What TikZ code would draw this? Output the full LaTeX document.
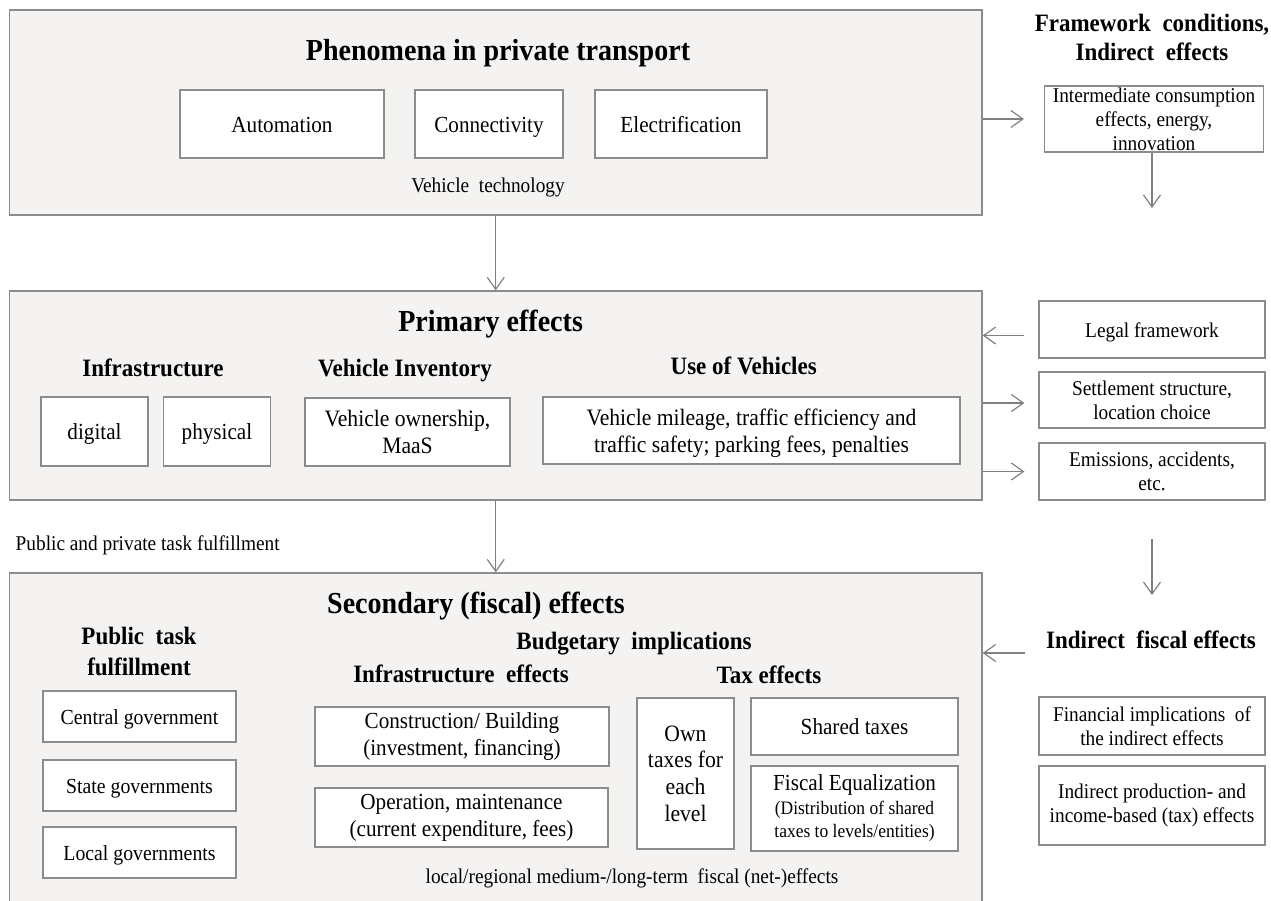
\documentclass[tikz,border=0pt]{standalone}
\usepackage{fontspec}
\setmainfont{Liberation Serif}[FakeStretch=0.92]
\usetikzlibrary{arrows.meta,calc}
\definecolor{bxfill}{HTML}{F4F3F2}
\definecolor{bxline}{HTML}{8C8C8C}
\definecolor{arcol}{HTML}{808080}
\newcommand\myfs[2]{\fontsize{#1}{#2}\selectfont}
\begin{document}
\begin{tikzpicture}[x=1pt,y=-1pt,
  bigbox/.style={draw=bxline, fill=bxfill, line width=1.3pt, inner sep=0pt},
  inbox/.style={draw=bxline, fill=white, line width=1.2pt, inner sep=0pt, align=center},
  oneline/.style={text height=17pt, text depth=1pt},
  txt/.style={inner sep=0pt, align=center},
  hdr/.style={txt, anchor=base, font=\bfseries\myfs{25}{29}},
  ttl/.style={txt, anchor=base, font=\bfseries\myfs{30.5}{34}},
  arr/.style={draw=arcol, line width=1.2pt, -{Straight Barb[length=12pt,width=17pt,line width=1.2pt]}},
]
\useasboundingbox (0,0) rectangle (1271,900);
\clip (0,0) rectangle (1271,900);

% ---------- Box 1 ----------
\node[bigbox, minimum width=972.5pt, minimum height=205pt] (box1) at (495.75,112.5) {};
\node[ttl] (t1) at (498,60) {Phenomena in private transport};
\node[inbox, oneline, minimum width=204pt, minimum height=68pt, font=\myfs{23}{27}] (auto) at (282,124) {Automation};
\node[inbox, oneline, minimum width=148pt, minimum height=68pt, font=\myfs{23}{27}] (conn) at (489,124) {Connectivity};
\node[inbox, oneline, minimum width=172pt, minimum height=68pt, font=\myfs{23}{27}] (elec) at (681,124) {Electrification};
\node[txt, anchor=base, font=\myfs{21}{24}] (vtech) at (488,192.7) {Vehicle\ \ technology};

% ---------- Right top ----------
\node[txt, font=\bfseries\myfs{25}{29}] (fwhead) at (1152,37.5) {Framework\ \ conditions,\\Indirect\ \ effects};
\node[inbox, minimum width=219pt, minimum height=66pt, font=\myfs{21}{24}] (interm) at (1154,119) {Intermediate consumption\\effects, energy,\\innovation};

% ---------- Box 2 ----------
\node[bigbox, minimum width=972.5pt, minimum height=209pt] (box2) at (495.75,395.5) {};
\node[ttl] (t2) at (490.6,331.7) {Primary effects};
\node[hdr] (hinfra) at (153,376) {Infrastructure};
\node[hdr] (hvinv) at (405,376) {Vehicle Inventory};
\node[hdr] (huse) at (743.7,374.3) {Use of Vehicles};
\node[inbox, oneline, minimum width=107pt, minimum height=69pt, font=\myfs{23}{27}] (digital) at (94.5,431.5) {digital};
\node[inbox, oneline, minimum width=107pt, minimum height=69pt, font=\myfs{23}{27}] (physical) at (217,431.5) {physical};
\node[inbox, minimum width=205pt, minimum height=68pt, font=\myfs{23.5}{27}] (vown) at (407.5,432) {Vehicle ownership,\\MaaS};
\node[inbox, minimum width=417pt, minimum height=67pt, font=\myfs{23.5}{27}] (usebox) at (751.5,430.5) {\rule{0pt}{22pt}Vehicle mileage, traffic efficiency and\\traffic safety; parking fees, penalties};

% ---------- Right middle ----------
\node[inbox, oneline, minimum width=226pt, minimum height=57pt, font=\myfs{21}{24}] (legal) at (1152,329.5) {Legal framework};
\node[inbox, minimum width=226pt, minimum height=56pt, font=\myfs{21}{24}] (settle) at (1152,400) {Settlement structure,\\location choice};
\node[inbox, minimum width=226pt, minimum height=57pt, font=\myfs{21}{24}] (emis) at (1152,471.5) {Emissions, accidents,\\etc.};

\node[txt, anchor=base west, font=\myfs{21}{24}] (ptask) at (15.5,550) {Public and private task fulfillment};

% ---------- Box 3 ----------
\node[bigbox, minimum width=972.5pt, minimum height=340pt] (box3) at (495.75,743) {};
\node[ttl] (t3) at (476,613) {Secondary (fiscal) effects};
\node[txt, font=\bfseries\myfs{25}{30.5}] (hpub) at (139,651.5) {Public\ \ task\\fulfillment};
\node[hdr] (hbudget) at (634,649.3) {Budgetary\ \ implications};
\node[hdr] (hinfeff) at (461,682.7) {Infrastructure\ \ effects};
\node[hdr] (htax) at (769,683) {Tax effects};

\node[inbox, oneline, minimum width=193pt, minimum height=51pt, font=\myfs{21.5}{24}] (central) at (139.5,716.5) {Central government};
\node[inbox, oneline, minimum width=193pt, minimum height=51pt, font=\myfs{21.5}{24}] (state) at (139.5,785.5) {State governments};
\node[inbox, oneline, minimum width=193pt, minimum height=51pt, font=\myfs{21.5}{24}] (local) at (139.5,852.5) {Local governments};

\node[inbox, minimum width=294pt, minimum height=59pt, font=\myfs{23}{27}] (constr) at (462,736.5) {Construction/ Building\\(investment, financing)};
\node[inbox, minimum width=293pt, minimum height=59pt, font=\myfs{23}{27}] (oper) at (461.5,817.5) {Operation, maintenance\\(current expenditure, fees)};

\node[inbox, minimum width=97pt, minimum height=151pt, font=\myfs{23.5}{26.7}] (own) at (685.5,773.5) {Own\\taxes for\\each\\level};
\node[inbox, oneline, minimum width=207pt, minimum height=57pt, font=\myfs{23}{27}] (shared) at (854.5,726.5) {Shared taxes};
\node[inbox, minimum width=207pt, minimum height=85pt, font=\myfs{19}{23.5}] (fiscaleq) at (854.5,808.5) {{\myfs{23}{27}Fiscal Equalization}\\(Distribution of shared\\taxes to levels/entities)};

\node[txt, anchor=base, font=\myfs{21}{24}] (footer) at (632,883) {local/regional medium-/long-term\ \ fiscal (net-)effects};

% ---------- Right bottom ----------
\node[hdr] (hindf) at (1151,648.3) {Indirect\ \ fiscal effects};
\node[inbox, minimum width=226pt, minimum height=58pt, font=\myfs{21}{24}] (financial) at (1152,726) {Financial implications\ \ of\\the indirect effects};
\node[inbox, minimum width=226pt, minimum height=79pt, font=\myfs{21}{24.3}] (indprod) at (1152,805.5) {Indirect production- and\\income-based (tax) effects};

% ---------- Connectors ----------
\draw[arr] (box1.south) -- (box2.north);
\draw[arr] (box2.south) -- (box3.north);
\draw[arr, shorten >=20pt] (box1.east |- interm.west) -- (interm.west);
\coordinate (d1) at (1152,208);
\draw[arr] (interm.south -| d1) -- (d1);
\draw[arr, shorten <=14pt] ([yshift=-6pt]legal.west) -- ([yshift=-6pt]legal.west -| box2.east);
\draw[arr, shorten >=14pt] ([yshift=-3pt]box2.east |- settle.west) -- ([yshift=-3pt]settle.west);
\draw[arr, shorten >=14pt] (box2.east |- emis.west) -- (emis.west);
\coordinate (v1) at (1152,539);
\coordinate (v2) at (1152,595);
\draw[arr] (v1) -- (v2);
\coordinate (f1) at (1024.5,653);
\draw[arr] (f1) -- (f1 -| box3.east);
\end{tikzpicture}
\end{document}
